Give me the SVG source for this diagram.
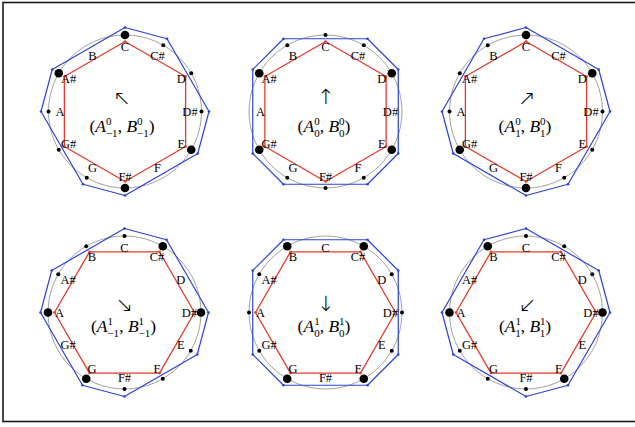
<svg xmlns="http://www.w3.org/2000/svg" width="635" height="427" viewBox="0 0 635 427">
<style>
.bg{fill:#fff}
.frame{fill:none;stroke:#1a1a1a;stroke-width:1.6}
.circ{fill:none;stroke:#8a8a8a;stroke-width:0.8}
.hex{fill:none;stroke:#e23b2a;stroke-width:1.3;stroke-linejoin:round}
.oct{fill:none;stroke:#2b44d8;stroke-width:1.2;stroke-linejoin:round}
.rv{fill:#e23b2a}
.bv{fill:#2b44d8}
.dot{fill:#000}
.lbl{font-family:"Liberation Serif",serif;font-size:12.5px;text-anchor:middle;fill:#000}
.m{font-family:"Liberation Serif",serif;font-size:17.5px;text-anchor:middle;fill:#000}
.i{font-style:italic}
.s{font-size:11px}
.arr{font-family:"DejaVu Sans",sans-serif;font-weight:200;font-size:21px;text-anchor:middle;fill:#000}
</style>
<defs>
<g id="labels">
<text class="lbl" x="0" y="-60.7">C</text>
<text class="lbl" x="32.5" y="-52">C#</text>
<text class="lbl" x="56.3" y="-28.2">D</text>
<text class="lbl" x="65" y="4.3">D#</text>
<text class="lbl" x="56.3" y="36.8">E</text>
<text class="lbl" x="32.5" y="60.6">F</text>
<text class="lbl" x="0" y="69.3">F#</text>
<text class="lbl" x="-32.5" y="60.6">G</text>
<text class="lbl" x="-56.3" y="36.8">G#</text>
<text class="lbl" x="-65" y="4.3">A</text>
<text class="lbl" x="-56.3" y="-28.2">A#</text>
<text class="lbl" x="-32.5" y="-52">B</text>
</g>
<g id="hexA">
<polygon class="hex" points="0,-70 60.62,-35 60.62,35 0,70 -60.62,35 -60.62,-35"/>
<circle class="rv" cx="0" cy="-70" r="1.3"/><circle class="rv" cx="60.62" cy="-35" r="1.3"/><circle class="rv" cx="60.62" cy="35" r="1.3"/><circle class="rv" cx="0" cy="70" r="1.3"/><circle class="rv" cx="-60.62" cy="35" r="1.3"/><circle class="rv" cx="-60.62" cy="-35" r="1.3"/>
</g>
<g id="hexB">
<polygon class="hex" points="35,-60.62 70,0 35,60.62 -35,60.62 -70,0 -35,-60.62"/>
<circle class="rv" cx="35" cy="-60.62" r="1.3"/><circle class="rv" cx="70" cy="0" r="1.3"/><circle class="rv" cx="35" cy="60.62" r="1.3"/><circle class="rv" cx="-35" cy="60.62" r="1.3"/><circle class="rv" cx="-70" cy="0" r="1.3"/><circle class="rv" cx="-35" cy="-60.62" r="1.3"/>
</g>
<g id="octL">
<polygon class="oct" points="0,-84 42,-72.75 84,0 72.75,42 0,84 -42,72.75 -84,0 -72.75,-42"/>
<circle class="bv" cx="0" cy="-84" r="1.3"/><circle class="bv" cx="42" cy="-72.75" r="1.3"/><circle class="bv" cx="84" cy="0" r="1.3"/><circle class="bv" cx="72.75" cy="42" r="1.3"/><circle class="bv" cx="0" cy="84" r="1.3"/><circle class="bv" cx="-42" cy="72.75" r="1.3"/><circle class="bv" cx="-84" cy="0" r="1.3"/><circle class="bv" cx="-72.75" cy="-42" r="1.3"/>
</g>
<g id="octM">
<polygon class="oct" points="42,-72.75 72.75,-42 72.75,42 42,72.75 -42,72.75 -72.75,42 -72.75,-42 -42,-72.75"/>
<circle class="bv" cx="42" cy="-72.75" r="1.3"/><circle class="bv" cx="72.75" cy="-42" r="1.3"/><circle class="bv" cx="72.75" cy="42" r="1.3"/><circle class="bv" cx="42" cy="72.75" r="1.3"/><circle class="bv" cx="-42" cy="72.75" r="1.3"/><circle class="bv" cx="-72.75" cy="42" r="1.3"/><circle class="bv" cx="-72.75" cy="-42" r="1.3"/><circle class="bv" cx="-42" cy="-72.75" r="1.3"/>
</g>
<g id="octR">
<polygon class="oct" points="0,-84 72.75,-42 84,0 42,72.75 0,84 -72.75,42 -84,0 -42,-72.75"/>
<circle class="bv" cx="0" cy="-84" r="1.3"/><circle class="bv" cx="72.75" cy="-42" r="1.3"/><circle class="bv" cx="84" cy="0" r="1.3"/><circle class="bv" cx="42" cy="72.75" r="1.3"/><circle class="bv" cx="0" cy="84" r="1.3"/><circle class="bv" cx="-72.75" cy="42" r="1.3"/><circle class="bv" cx="-84" cy="0" r="1.3"/><circle class="bv" cx="-42" cy="-72.75" r="1.3"/>
</g>
</defs>
<rect class="bg" x="0" y="0" width="635" height="427"/>
<rect class="frame" x="3" y="2.5" width="650" height="419"/>

<g id="panel-1" transform="translate(125,111.5)">
<circle class="circ" cx="0" cy="0" r="76.5"/>
<use href="#hexA"/>
<use href="#octL"/>
<g class="dot">
<circle cx="0" cy="-76.5" r="4.3"/><circle cx="66.25" cy="38.25" r="4.3"/><circle cx="0" cy="76.5" r="4.3"/><circle cx="-66.25" cy="-38.25" r="4.3"/>
<circle cx="38.25" cy="-66.25" r="2"/><circle cx="66.25" cy="-38.25" r="2"/><circle cx="76.5" cy="0" r="2"/><circle cx="-38.25" cy="66.25" r="2"/><circle cx="-66.25" cy="38.25" r="2"/><circle cx="-76.5" cy="0" r="2"/>
</g>
<use href="#labels"/>
<text class="arr" x="-3" y="-6.5">↖</text>
<text class="m" x="-3" y="20">(<tspan class="i">A</tspan><tspan class="s" dy="-7">0</tspan><tspan class="s" dx="-5.5" dy="12">−1</tspan><tspan dy="-5">, </tspan><tspan class="i">B</tspan><tspan class="s" dy="-7">0</tspan><tspan class="s" dx="-5.5" dy="12">−1</tspan><tspan dy="-5">)</tspan></text>
</g>

<g id="panel-2" transform="translate(325.5,111.5)">
<circle class="circ" cx="0" cy="0" r="76.5"/>
<use href="#hexA"/>
<use href="#octM"/>
<g class="dot">
<circle cx="66.25" cy="-38.25" r="4.3"/><circle cx="66.25" cy="38.25" r="4.3"/><circle cx="-66.25" cy="38.25" r="4.3"/><circle cx="-66.25" cy="-38.25" r="4.3"/>
<circle cx="0" cy="-76.5" r="2"/><circle cx="38.25" cy="-66.25" r="2"/><circle cx="38.25" cy="66.25" r="2"/><circle cx="0" cy="76.5" r="2"/><circle cx="-38.25" cy="66.25" r="2"/><circle cx="-38.25" cy="-66.25" r="2"/>
</g>
<use href="#labels"/>
<text class="arr" x="0.5" y="-7.5">↑</text>
<text class="m" x="-1.5" y="20">(<tspan class="i">A</tspan><tspan class="s" dy="-7">0</tspan><tspan class="s" dx="-5.5" dy="12">0</tspan><tspan dy="-5">, </tspan><tspan class="i">B</tspan><tspan class="s" dy="-7">0</tspan><tspan class="s" dx="-5.5" dy="12">0</tspan><tspan dy="-5">)</tspan></text>
</g>

<g id="panel-3" transform="translate(526,111.5)">
<circle class="circ" cx="0" cy="0" r="76.5"/>
<use href="#hexA"/>
<use href="#octR"/>
<g class="dot">
<circle cx="0" cy="-76.5" r="4.3"/><circle cx="66.25" cy="-38.25" r="4.3"/><circle cx="0" cy="76.5" r="4.3"/><circle cx="-66.25" cy="38.25" r="4.3"/>
<circle cx="76.5" cy="0" r="2"/><circle cx="66.25" cy="38.25" r="2"/><circle cx="38.25" cy="66.25" r="2"/><circle cx="-76.5" cy="0" r="2"/><circle cx="-66.25" cy="-38.25" r="2"/><circle cx="-38.25" cy="-66.25" r="2"/>
</g>
<use href="#labels"/>
<text class="arr" x="1" y="-6.5">↗</text>
<text class="m" x="-1" y="20">(<tspan class="i">A</tspan><tspan class="s" dy="-7">0</tspan><tspan class="s" dx="-5.5" dy="12">1</tspan><tspan dy="-5">, </tspan><tspan class="i">B</tspan><tspan class="s" dy="-7">0</tspan><tspan class="s" dx="-5.5" dy="12">1</tspan><tspan dy="-5">)</tspan></text>
</g>

<g id="panel-4" transform="translate(124.5,312.5)">
<circle class="circ" cx="0" cy="0" r="76.5"/>
<use href="#hexB"/>
<use href="#octL"/>
<g class="dot">
<circle cx="38.25" cy="-66.25" r="4.3"/><circle cx="76.5" cy="0" r="4.3"/><circle cx="-38.25" cy="66.25" r="4.3"/><circle cx="-76.5" cy="0" r="4.3"/>
<circle cx="0" cy="-76.5" r="2"/><circle cx="66.25" cy="38.25" r="2"/><circle cx="38.25" cy="66.25" r="2"/><circle cx="0" cy="76.5" r="2"/><circle cx="-66.25" cy="-38.25" r="2"/><circle cx="-38.25" cy="-66.25" r="2"/>
</g>
<use href="#labels"/>
<text class="arr" x="0" y="-0.5">↘</text>
<text class="m" x="-1" y="19.5">(<tspan class="i">A</tspan><tspan class="s" dy="-7">1</tspan><tspan class="s" dx="-5.5" dy="12">−1</tspan><tspan dy="-5">, </tspan><tspan class="i">B</tspan><tspan class="s" dy="-7">1</tspan><tspan class="s" dx="-5.5" dy="12">−1</tspan><tspan dy="-5">)</tspan></text>
</g>

<g id="panel-5" transform="translate(325.5,312.5)">
<circle class="circ" cx="0" cy="0" r="76.5"/>
<use href="#hexB"/>
<use href="#octM"/>
<g class="dot">
<circle cx="38.25" cy="-66.25" r="4.3"/><circle cx="38.25" cy="66.25" r="4.3"/><circle cx="-38.25" cy="66.25" r="4.3"/><circle cx="-38.25" cy="-66.25" r="4.3"/>
<circle cx="66.25" cy="-38.25" r="2"/><circle cx="76.5" cy="0" r="2"/><circle cx="66.25" cy="38.25" r="2"/><circle cx="-66.25" cy="38.25" r="2"/><circle cx="-76.5" cy="0" r="2"/><circle cx="-66.25" cy="-38.25" r="2"/>
</g>
<use href="#labels"/>
<text class="arr" x="0.5" y="-2">↓</text>
<text class="m" x="-1.5" y="19.5">(<tspan class="i">A</tspan><tspan class="s" dy="-7">1</tspan><tspan class="s" dx="-5.5" dy="12">0</tspan><tspan dy="-5">, </tspan><tspan class="i">B</tspan><tspan class="s" dy="-7">1</tspan><tspan class="s" dx="-5.5" dy="12">0</tspan><tspan dy="-5">)</tspan></text>
</g>

<g id="panel-6" transform="translate(526,312.5)">
<circle class="circ" cx="0" cy="0" r="76.5"/>
<use href="#hexB"/>
<use href="#octR"/>
<g class="dot">
<circle cx="76.5" cy="0" r="4.3"/><circle cx="38.25" cy="66.25" r="4.3"/><circle cx="-76.5" cy="0" r="4.3"/><circle cx="-38.25" cy="-66.25" r="4.3"/>
<circle cx="0" cy="-76.5" r="2"/><circle cx="38.25" cy="-66.25" r="2"/><circle cx="66.25" cy="-38.25" r="2"/><circle cx="0" cy="76.5" r="2"/><circle cx="-38.25" cy="66.25" r="2"/><circle cx="-66.25" cy="38.25" r="2"/>
</g>
<use href="#labels"/>
<text class="arr" x="1.5" y="-0.5">↙</text>
<text class="m" x="-1" y="19.5">(<tspan class="i">A</tspan><tspan class="s" dy="-7">1</tspan><tspan class="s" dx="-5.5" dy="12">1</tspan><tspan dy="-5">, </tspan><tspan class="i">B</tspan><tspan class="s" dy="-7">1</tspan><tspan class="s" dx="-5.5" dy="12">1</tspan><tspan dy="-5">)</tspan></text>
</g>
</svg>
